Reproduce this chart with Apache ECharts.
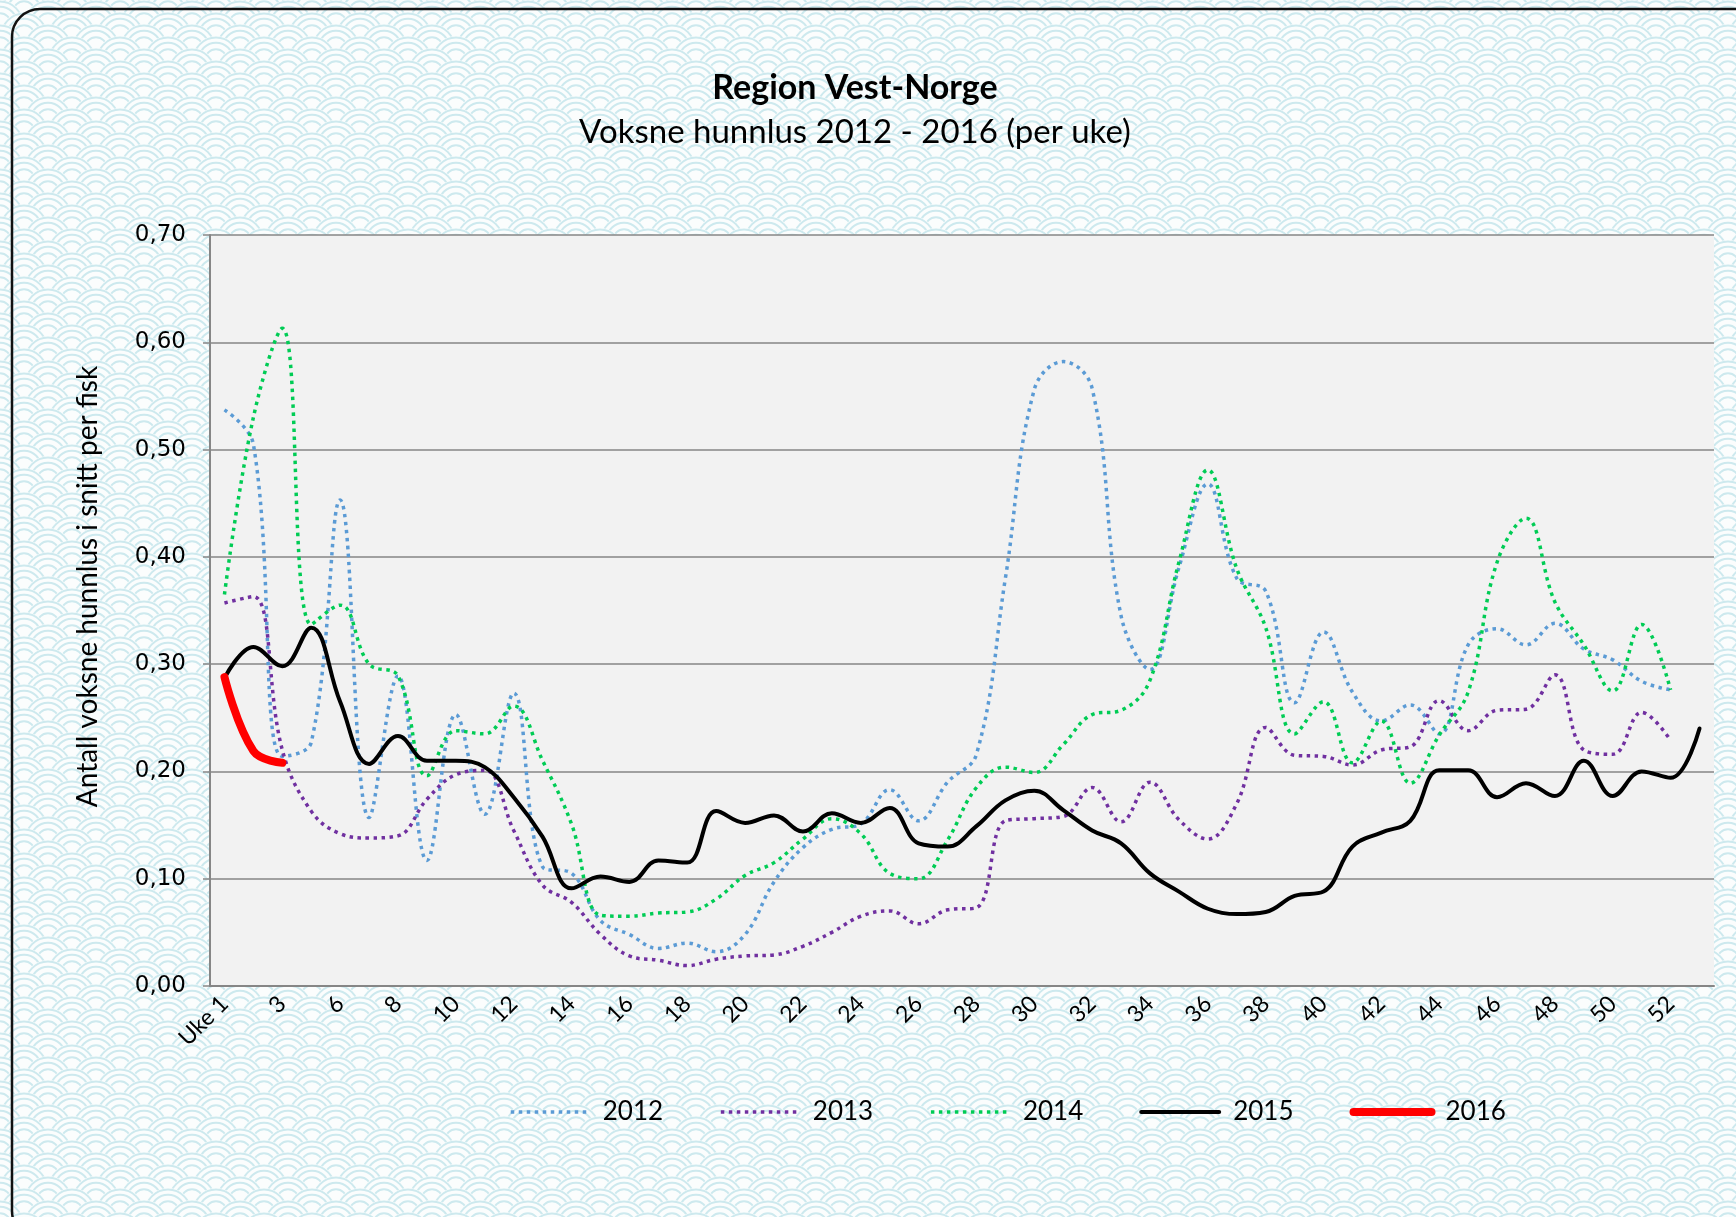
<!DOCTYPE html>
<html>
<head>
<meta charset="UTF-8">
<title>Region Vest-Norge</title>
<script type="text/javascript" src="https://cdn.jsdelivr.net/npm/echarts@6.0.0/dist/echarts.min.js"></script>
<style type="text/css">
body { margin: 0; padding: 0; background: #fff; }
#main { width: 1736px; height: 1217px; }
</style>
</head>
<body>
<div id="main"></div>
<script>
// uker (kategori-akse), annenhver vises som etikett
var weeks = ['Uke 1','2','3','4','6','7','8','9','10','11','12','13','14','15','16','17','18','19','20',
	'21','22','23','24','25','26','27','28','29','30','31','32','33','34','35','36','37','38','39','40',
	'41','42','43','44','45','46','47','48','49','50','51','52','53'];

var y2012 = [0.537,0.505,0.214,0.227,0.453,0.157,0.289,0.117,0.253,0.160,0.273,0.111,0.105,0.061,0.048,0.035,
	0.040,0.032,0.048,0.097,0.129,0.146,0.151,0.183,0.154,0.190,0.216,0.380,0.556,0.582,0.557,0.345,0.295,
	0.390,0.468,0.380,0.368,0.264,0.330,0.274,0.247,0.262,0.235,0.318,0.333,0.318,0.338,0.314,0.304,0.284,0.276];
var y2013 = [0.357,0.363,0.220,0.163,0.142,0.138,0.140,0.174,0.197,0.201,0.145,0.094,0.078,0.048,0.028,0.024,
	0.019,0.025,0.028,0.029,0.037,0.050,0.065,0.070,0.058,0.071,0.073,0.154,0.156,0.158,0.185,0.153,0.190,
	0.155,0.137,0.170,0.241,0.215,0.214,0.206,0.220,0.223,0.266,0.238,0.257,0.258,0.290,0.220,0.216,0.255,0.229];
var y2014 = [0.365,0.530,0.613,0.337,0.355,0.300,0.289,0.196,0.238,0.235,0.261,0.210,0.151,0.066,0.065,0.068,
	0.069,0.081,0.103,0.115,0.137,0.156,0.142,0.105,0.100,0.136,0.185,0.204,0.199,0.225,0.253,0.257,0.285,
	0.395,0.481,0.389,0.334,0.235,0.265,0.208,0.247,0.189,0.234,0.274,0.395,0.436,0.358,0.318,0.275,0.337,0.276];
var y2015 = [0.287,0.316,0.298,0.334,0.265,0.207,0.233,0.210,0.210,0.204,0.176,0.139,0.091,0.102,0.097,0.117,
	0.115,0.163,0.152,0.159,0.144,0.161,0.152,0.166,0.133,0.130,0.149,0.173,0.182,0.164,0.145,0.133,0.105,
	0.088,0.072,0.067,0.069,0.084,0.088,0.130,0.143,0.154,0.201,0.201,0.176,0.189,0.177,0.210,0.177,0.200,0.194,0.240];
var y2016 = [0.288,0.219,0.208];

// bakgrunnsmønster (bølger)
function scaleTile(){
	var R = 24, w = 2*R, h = R;
	var c = document.createElement('canvas');
	c.width = w; c.height = h;
	var g = c.getContext('2d');
	g.fillStyle = '#fbfdfd';
	g.fillRect(0,0,w,h);
	for(var k=-2;k<=4;k++){
		var cy = k*R/2;
		var off = (k%2!==0) ? R : 0;
		for(var cx=-2*R+off; cx<=w+2*R; cx+=2*R){
			g.beginPath(); g.arc(cx,cy,R,0,Math.PI*2);
			g.fillStyle = '#fbfdfd'; g.fill();
			var rings = [R-1.5, R*0.72, R*0.45];
			for(var j=0;j<rings.length;j++){
				g.beginPath(); g.arc(cx,cy,rings[j],0,Math.PI*2);
				g.strokeStyle = '#cde9ee'; g.lineWidth = 2; g.stroke();
			}
		}
	}
	return c;
}

var chart = echarts.init(document.getElementById('main'));

function lineSeries(name, data, color, width, dotted){
	return {
		name: name,
		type: 'line',
		data: data,
		smooth: 0.4,
		showSymbol: false,
		symbol: 'none',
		lineStyle: { color: color, width: width, type: dotted ? [3.5,4.5] : 'solid', cap: dotted ? 'butt' : 'round' },
		itemStyle: { color: color },
		z: dotted ? 2 : 3
	};
}

var option = {
	backgroundColor: { image: scaleTile(), repeat: 'repeat' },
	animation: false,
	title: [{
		text: 'Region Vest-Norge',
		left: 850, top: 66, textAlign: 'center',
		textStyle: { fontFamily: 'Lato', fontWeight: 'bold', fontSize: 34, color: '#000' }
	},{
		text: 'Voksne hunnlus 2012 - 2016 (per uke)',
		left: 850, top: 111, textAlign: 'center',
		textStyle: { fontFamily: 'Lato', fontWeight: 'normal', fontSize: 33, color: '#000' }
	}],
	legend: {
		left: 504, top: 1094,
		itemWidth: 78, itemHeight: 14, itemGap: 56,
		itemStyle: { opacity: 0 },
		lineStyle: { width: 'inherit' },
		textStyle: { fontFamily: 'Lato', fontSize: 26, color: '#000', padding: [0,0,0,9] },
		data: ['2012','2013','2014','2015','2016']
	},
	grid: {
		left: 210, right: 22, top: 235, bottom: 231,
		show: true, backgroundColor: '#f2f2f2', borderWidth: 0
	},
	xAxis: {
		type: 'category',
		data: weeks,
		boundaryGap: true,
		axisLine: { lineStyle: { color: '#868686', width: 2 } },
		axisTick: { interval: 0, length: 7, lineStyle: { color: '#868686', width: 2 } },
		axisLabel: { interval: 1, rotate: 45, margin: 14, fontFamily: 'Lato', fontSize: 23, color: '#000' }
	},
	yAxis: {
		type: 'value',
		min: 0, max: 0.7, interval: 0.1,
		name: 'Antall voksne hunnlus i snitt per fisk',
		nameLocation: 'middle', nameGap: 108, nameRotate: 90,
		nameTextStyle: { fontFamily: 'Lato', fontSize: 28, color: '#000', padding: [0,0,0,48] },
		axisLine: { show: true, lineStyle: { color: '#868686', width: 2 } },
		axisTick: { show: true, length: 7, lineStyle: { color: '#868686', width: 1.5 } },
		axisLabel: {
			margin: 24, fontFamily: 'DejaVu Sans', fontSize: 23, color: '#000',
			formatter: function(v){ return v.toFixed(2).replace('.', ','); }
		},
		splitLine: { lineStyle: { color: '#868686', width: 1.5 } }
	},
	series: [
		lineSeries('2012', y2012, '#5b9bd5', 3.5, true),
		lineSeries('2013', y2013, '#7030a0', 3.5, true),
		lineSeries('2014', y2014, '#00cc55', 3.5, true),
		lineSeries('2015', y2015, '#000000', 4, false),
		lineSeries('2016', y2016, '#ff0000', 8, false)
	],
	graphic: [{
		type: 'rect',
		shape: { x: 12, y: 9, width: 1780, height: 1230, r: 28 },
		style: { fill: 'none', stroke: '#111', lineWidth: 2.5 },
		silent: true
	}]
};

chart.setOption(option);
</script>
</body>
</html>
